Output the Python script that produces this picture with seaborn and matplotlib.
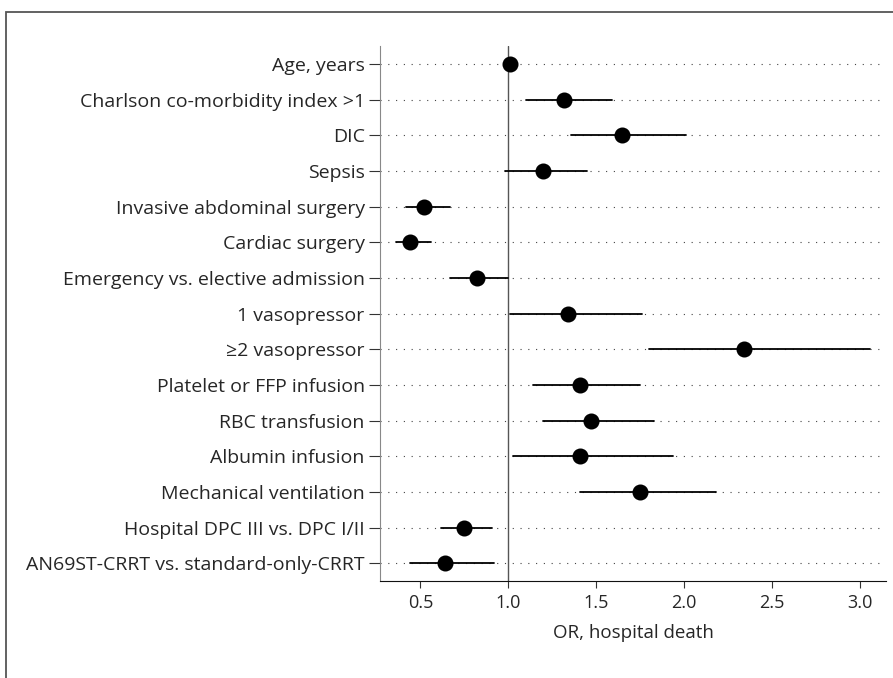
import numpy as np
import pandas as pd
import seaborn as sns
import matplotlib.pyplot as plt
from matplotlib.patches import Rectangle

# odds ratios (point estimate, lower and upper CI)
labels = ['Age, years', 'Charlson co-morbidity index >1', 'DIC', 'Sepsis',
          'Invasive abdominal surgery', 'Cardiac surgery',
          'Emergency vs. elective admission', '1 vasopressor', '≥2 vasopressor',
          'Platelet or FFP infusion', 'RBC transfusion', 'Albumin infusion',
          'Mechanical ventilation', 'Hospital DPC III vs. DPC I/II',
          'AN69ST-CRRT vs. standard-only-CRRT']
odds = [1.01, 1.32, 1.65, 1.20, 0.52, 0.44, 0.82, 1.34, 2.34, 1.41, 1.47, 1.41, 1.75, 0.75, 0.64]
ci_lo = [1.005, 1.10, 1.36, 0.98, 0.42, 0.36, 0.67, 1.01, 1.80, 1.14, 1.20, 1.03, 1.41, 0.62, 0.44]
ci_hi = [1.015, 1.59, 2.01, 1.45, 0.67, 0.56, 1.00, 1.76, 3.06, 1.75, 1.83, 1.94, 2.18, 0.91, 0.92]
xticks = [0.5, 1.0, 1.5, 2.0, 2.5, 3.0]

# long form: median of (lo, or, hi) is the OR, full range is the CI
df = pd.DataFrame({
    'label': np.repeat(labels, 3),
    'value': np.column_stack([ci_lo, odds, ci_hi]).ravel(),
})

sns.set_style('ticks')
plt.rcParams['font.family'] = ['Open Sans', 'DejaVu Sans']

fig = plt.figure(figsize=(8.93, 6.78), dpi=100)
ax = fig.add_axes([0.4255, 0.143, 0.5666, 0.789])

# dotted row guides
for i in range(len(labels)):
    ax.axhline(i, color='#444444', linestyle=(0, (1, 6)), linewidth=0.8, zorder=0)
ax.axvline(1.0, color='#555555', linewidth=1.0, zorder=1)

sns.pointplot(data=df, x='value', y='label', order=labels, orient='h',
              estimator='median', errorbar=('pi', 100), color='black',
              markers='o', linestyle='none', markersize=9.5,
              err_kws={'linewidth': 1.3}, capsize=0, ax=ax, zorder=3)

ax.set_xlim(0.27, 3.15)
ax.set_ylim(len(labels) - 0.5, -0.5)
ax.set_xticks(xticks)
ax.set_xticklabels([f'{t:.1f}' for t in xticks])
ax.set_xlabel('OR, hospital death', fontsize=13.5, labelpad=9)
ax.set_ylabel('')
ax.tick_params(axis='x', labelsize=13, length=5, width=0.8, color='#333333', pad=4)
ax.tick_params(axis='y', labelsize=14, length=8, width=0.8, color='#333333', pad=3)
sns.despine(ax=ax, top=True, right=True)
ax.spines['left'].set_color('#888888')
ax.spines['bottom'].set_color('#111111')

# page frame, cut at the right and bottom edge
fig.patches.append(Rectangle((6 / 893, -0.2), 1.2, 1.2 - 12 / 678,
                             transform=fig.transFigure, fill=False,
                             edgecolor='#555555', linewidth=1.3))

fig.savefig('out.png', dpi=100)
